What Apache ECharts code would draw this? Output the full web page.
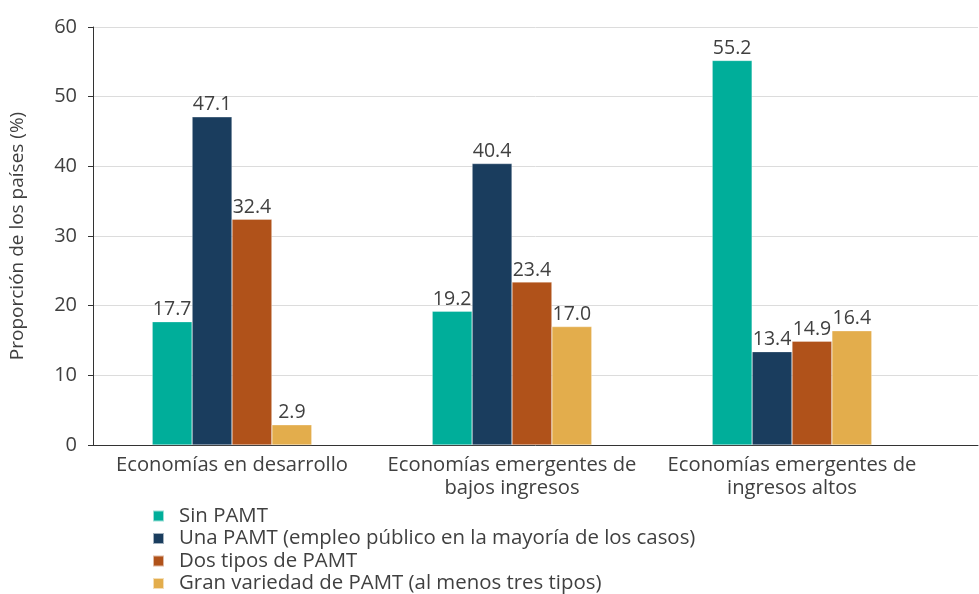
<!DOCTYPE html>
<html><head><meta charset="utf-8">
<script src="https://cdn.jsdelivr.net/npm/echarts@6/dist/echarts.min.js"></script>
<style>html,body{margin:0;padding:0;background:#fff}#c{width:979px;height:594px}</style>
</head><body><div id="c"></div>
<script>
const categories = ['Economías en desarrollo', 'Economías emergentes de\nbajos ingresos', 'Economías emergentes de\ningresos altos'];
const seriesNames = ['Sin PAMT', 'Una PAMT (empleo público en la mayoría de los casos)', 'Dos tipos de PAMT', 'Gran variedad de PAMT (al menos tres tipos)'];
const sinPAMT = [17.7, 19.2, 55.2];
const unaPAMT = [47.1, 40.4, 13.4];
const dosPAMT = [32.4, 23.4, 14.9];
const granPAMT = [2.9, 17.0, 16.4];
const yTicks = [0, 10, 20, 30, 40, 50, 60];
const colors = ['#00AE9A', '#1A3D5E', '#B0521A', '#E3AD4C'];
const values = [sinPAMT, unaPAMT, dosPAMT, granPAMT];
const font = '"Open Sans", "Noto Sans", sans-serif';

const chart = echarts.init(document.getElementById('c'), null, {renderer: 'canvas'});
chart.setOption({
  animation: false,
  color: colors,
  textStyle: {fontFamily: font},
  grid: [
    {left: 92, right: 1, top: 27, bottom: 149, containLabel: false},
    {left: 92, right: 47, top: 27, bottom: 149, containLabel: false}
  ],
  legend: {
    orient: 'vertical', left: 152, top: 506, padding: 0, itemWidth: 11, itemHeight: 11, itemGap: 2.5,
    icon: 'rect',
    textStyle: {fontSize: 20.4, lineHeight: 20, color: '#404040', fontFamily: font, padding: [0, 0, 0, 10]},
    data: seriesNames
  },
  xAxis: [
    {type: 'category', gridIndex: 0, data: [''], axisLine: {show: true, lineStyle: {color: '#333', width: 1}},
     axisTick: {show: false}, axisLabel: {show: false}, splitLine: {show: false}},
    {type: 'category', gridIndex: 1, data: categories, axisLine: {show: false}, axisTick: {show: false},
     axisLabel: {fontSize: 20.2, color: '#404040', fontFamily: font, margin: 9, lineHeight: 23, interval: 0}}
  ],
  yAxis: [
    {type: 'value', gridIndex: 0, min: 0, max: 60, interval: 10,
     name: 'Proporción de los países (%)', nameLocation: 'middle', nameGap: 66, nameRotate: 90,
     nameTextStyle: {fontSize: 19, color: '#404040', fontFamily: font},
     axisLine: {show: true, lineStyle: {color: '#333'}},
     axisTick: {show: true, length: 5, lineStyle: {color: '#333'}},
     axisLabel: {fontSize: 20, color: '#404040', fontFamily: font, margin: 16,
       formatter: v => yTicks.includes(v) ? String(v) : ''},
     splitLine: {show: true, lineStyle: {color: '#dcdcdc', width: 1}}},
    {type: 'value', gridIndex: 1, min: 0, max: 60, interval: 10, show: false, splitLine: {show: false}}
  ],
  series: values.map((arr, i) => ({
    name: seriesNames[i], type: 'bar', xAxisIndex: 1, yAxisIndex: 1,
    data: arr, barGap: '0%', barCategoryGap: '43%',
    itemStyle: {color: colors[i], borderColor: 'rgba(255,255,255,0.6)', borderWidth: 0.5},
    label: {show: true, position: 'top', distance: 2, fontSize: 19.5, color: '#404040', fontFamily: font,
      formatter: p => p.value.toFixed(1)}
  }))
});
</script></body></html>
